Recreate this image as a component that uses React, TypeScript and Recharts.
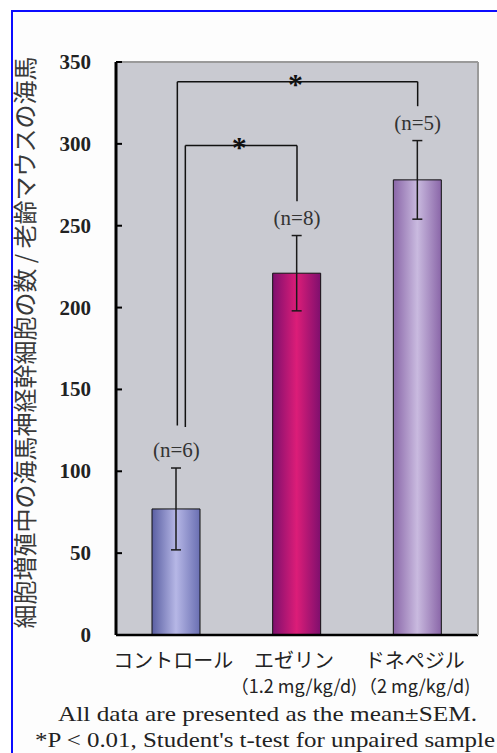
import React from "react";
import {
  BarChart,
  Bar,
  Cell,
  XAxis,
  YAxis,
  CartesianGrid,
  ErrorBar,
  ReferenceLine,
  ReferenceDot,
} from "recharts";

// 群と測定値
const groups = ["コントロール", "エゼリン", "ドネペジル"];
const doses = ["", "（1.2 mg/kg/d)", "（2 mg/kg/d)"];
const means = [77, 221, 278];
const sems = [25, 23, 24];
const sampleSizes = [6, 8, 5];
const yTicks = [0, 50, 100, 150, 200, 250, 300, 350];

// 有意差のブラケット（y はデータ単位）
const bracketFrom = ["コントロール", "コントロール"];
const bracketTo = ["ドネペジル", "エゼリン"];
const bracketLevel = [338, 299];
const bracketLeftEnd = [128, 127];
const bracketRightEnd = [323, 265];

const footnotes = [
  "All data are presented as the mean\u00b1SEM.",
  "*P < 0.01, Student's t-test for unpaired sample",
];

const data = groups.map((name, i) => ({
  name,
  mean: means[i],
  err: sems[i],
  top: means[i] + sems[i],
  n: sampleSizes[i],
}));

const GRADIENTS = [
  ["#5a5fa2", "#b6b7e6", "#6a6fb2"],
  ["#7e0f6e", "#dc1d78", "#7e0f6e"],
  ["#8a66a8", "#c9badf", "#8a66a8"],
];

const SERIF = "'Liberation Serif', 'Times New Roman', serif";
const CJK = "'Noto Sans CJK JP', 'Noto Sans', sans-serif";
const LEG_SHIFT = [1, 9]; // 左脚を少しずらして二本の線が重ならないように

function YTick(props: any) {
  const { x, y, payload } = props;
  return (
    <g>
      <line x1={x} x2={x + 6} y1={y} y2={y} stroke="#000" strokeWidth={2} />
      <text
        x={x - 25}
        y={y}
        dy={7}
        textAnchor="end"
        fontFamily={SERIF}
        fontWeight="bold"
        fontSize={21}
        fill="#222"
      >
        {payload.value}
      </text>
    </g>
  );
}

function XTick(props: any) {
  const { x, y, payload } = props;
  const i = groups.indexOf(payload.value);
  return (
    <g fontFamily={CJK} fill="#222" textAnchor="middle">
      <text x={x - 3} y={y + 33} fontSize={20}>
        {payload.value}
      </text>
      <text x={x - 3} y={y + 58} fontSize={18}>
        {doses[i]}
      </text>
    </g>
  );
}

export default function App() {
  return (
    <div style={{ position: "absolute", left: 0, top: 0, width: 497, height: 753, overflow: "hidden" }}>
      <div
        style={{
          position: "absolute",
          left: 11,
          top: 10,
          width: 497,
          height: 780,
          border: "2px solid #0c0cff",
          background: "#fdfdfd",
        }}
      />
      <div style={{ position: "absolute", left: 0, top: 0 }}>
        <BarChart
          width={497}
          height={753}
          data={data}
          margin={{ top: 0, right: 0, left: 0, bottom: 0 }}
          barSize={48}
        >
          <defs>
            {GRADIENTS.map((g, i) => (
              <linearGradient key={i} id={`bar${i}`} x1="0" y1="0" x2="1" y2="0">
                <stop offset="0%" stopColor={g[0]} />
                <stop offset="50%" stopColor={g[1]} />
                <stop offset="100%" stopColor={g[2]} />
              </linearGradient>
            ))}
          </defs>
          <CartesianGrid fill="#c9cad1" horizontal={false} vertical={false} />
          <XAxis
            dataKey="name"
            height={118}
            tickSize={0}
            tickMargin={0}
            tickLine={false}
            axisLine={{ stroke: "#000", strokeWidth: 2.5 }}
            tick={<XTick />}
            interval={0}
          />
          <XAxis
            xAxisId="top"
            dataKey="name"
            orientation="top"
            height={62}
            tick={false}
            tickLine={false}
            axisLine={{ stroke: "#9a9a9a", strokeWidth: 2 }}
          />
          <YAxis
            width={116}
            domain={[0, 350]}
            ticks={yTicks}
            interval={0}
            tickSize={0}
            tickMargin={0}
            tickLine={false}
            axisLine={{ stroke: "#000", strokeWidth: 3 }}
            tick={<YTick />}
            label={{
              content: (p: any) => {
                const vb = p.viewBox;
                const cx = vb.x + 23;
                const cy = vb.y + vb.height / 2 - 6;
                return (
                  <text
                    x={cx}
                    y={cy}
                    transform={`rotate(-90 ${cx} ${cy})`}
                    textAnchor="middle"
                    dominantBaseline="central"
                    fontFamily={CJK}
                    fontSize={24}
                    fill="#3a3a3a"
                  >
                    細胞増殖中の海馬神経幹細胞の数 / 老齢マウスの海馬
                  </text>
                );
              },
            }}
          />
          <YAxis
            yAxisId="right"
            orientation="right"
            width={19}
            domain={[0, 350]}
            tick={false}
            tickLine={false}
            axisLine={{ stroke: "#9a9a9a", strokeWidth: 2 }}
          />
          <Bar dataKey="mean" isAnimationActive={false} stroke="#111" strokeWidth={1}>
            {data.map((d, i) => (
              <Cell key={d.name} fill={`url(#bar${i})`} />
            ))}
            <ErrorBar
              dataKey="err"
              width={5}
              stroke="#1a1a1a"
              strokeWidth={1.5}
              isAnimationActive={false}
            />
          </Bar>
          {data.map((d) => (
            <ReferenceDot
              key={`n-${d.name}`}
              x={d.name}
              y={d.top}
              r={0}
              shape={(p: any) => (
                <text
                  x={p.cx}
                  y={p.cy - 11}
                  textAnchor="middle"
                  fontFamily={SERIF}
                  fontSize={21}
                  fill="#333"
                >
                  {`(n=${d.n})`}
                </text>
              )}
            />
          ))}
          {bracketFrom.map((from, i) => (
            <React.Fragment key={`br-${i}`}>
              <ReferenceLine
                segment={[
                  { x: from, y: bracketLevel[i] },
                  { x: bracketTo[i], y: bracketLevel[i] },
                ]}
                shape={(p: any) => {
                  const x1 = p.x1 + LEG_SHIFT[i];
                  const mid = (x1 + p.x2) / 2 - 2;
                  return (
                    <g>
                      <line x1={x1} x2={p.x2} y1={p.y1} y2={p.y2} stroke="#111" strokeWidth={1.5} />
                      <text
                        x={mid}
                        y={p.y1 + 12}
                        textAnchor="middle"
                        fontFamily={SERIF}
                        fontWeight="bold"
                        fontSize={30}
                        fill="#111"
                      >
                        *
                      </text>
                    </g>
                  );
                }}
              />
              <ReferenceLine
                segment={[
                  { x: from, y: bracketLevel[i] },
                  { x: from, y: bracketLeftEnd[i] },
                ]}
                shape={(p: any) => (
                  <line
                    x1={p.x1 + LEG_SHIFT[i]}
                    x2={p.x2 + LEG_SHIFT[i]}
                    y1={p.y1}
                    y2={p.y2}
                    stroke="#111"
                    strokeWidth={1.5}
                  />
                )}
              />
              <ReferenceLine
                segment={[
                  { x: bracketTo[i], y: bracketLevel[i] },
                  { x: bracketTo[i], y: bracketRightEnd[i] },
                ]}
                stroke="#111"
                strokeWidth={1.5}
              />
            </React.Fragment>
          ))}
        </BarChart>
      </div>
      <svg
        width={497}
        height={753}
        style={{ position: "absolute", left: 0, top: 0, pointerEvents: "none" }}
      >
        <text x={58} y={721} textLength={419} lengthAdjust="spacingAndGlyphs" fontFamily={SERIF} fontSize={21} fill="#222">
          {footnotes[0]}
        </text>
        <text x={35} y={747} textLength={460} lengthAdjust="spacingAndGlyphs" fontFamily={SERIF} fontSize={21} fill="#222">
          {footnotes[1]}
        </text>
      </svg>
    </div>
  );
}
